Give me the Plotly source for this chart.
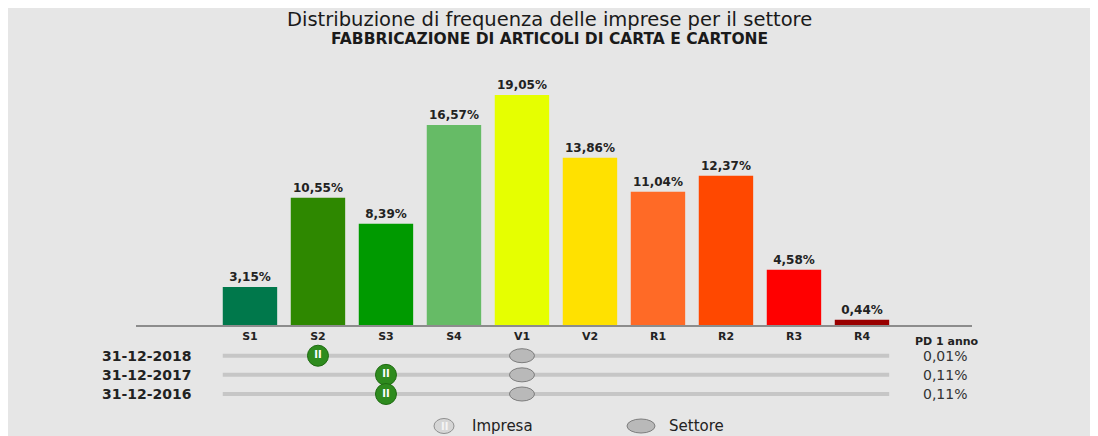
import plotly.graph_objects as go

# ---------------- data ----------------
classes = ["S1", "S2", "S3", "S4", "V1", "V2", "R1", "R2", "R3", "R4"]
freq_pct = [3.15, 10.55, 8.39, 16.57, 19.05, 13.86, 11.04, 12.37, 4.58, 0.44]
bar_colors = ["#00784b", "#2e8800", "#009a00", "#66bb66", "#e6ff00",
              "#ffe100", "#ff6a26", "#ff4800", "#ff0000", "#990000"]
dates = ["31-12-2018", "31-12-2017", "31-12-2016"]
impresa_class = ["S2", "S3", "S3"]
settore_class = ["V1", "V1", "V1"]
pd_1_anno = ["0,01%", "0,11%", "0,11%"]
title_line1 = "Distribuzione di frequenza delle imprese per il settore"
title_line2 = "FABBRICAZIONE DI ARTICOLI DI CARTA E CARTONE"

FONT = "DejaVu Sans"
idx = list(range(len(classes)))
row_vals = [3, 2, 1]  # vertical position of the three slider rows

# page offset (browser body margin) and plot-area geometry in px
OFF = 8
W, H = 1098, 428
L, T = 128.0, 37.0
PW, PH = 836.0, 391.0


def px_x(p):
    """reference-picture x pixel -> paper coordinate"""
    return (p - OFF - L) / PW


def px_y(p):
    """reference-picture y pixel -> paper coordinate"""
    return (T + PH - (p - OFF)) / PH


fig = go.Figure()

# bars
fig.add_trace(go.Bar(
    x=idx, y=freq_pct, width=0.8,
    marker=dict(color=bar_colors, line=dict(width=0)),
    texttemplate="%{y:.2f}%", textposition="outside",
    textfont=dict(family=FONT, size=12, color="#222222", weight="bold"),
    cliponaxis=False, hoverinfo="skip", showlegend=False,
))

shapes = []
# slider tracks
for r in row_vals:
    shapes.append(dict(type="line", xref="x", yref="y2",
                       x0=-0.4, x1=len(classes) - 0.6, y0=r, y1=r,
                       line=dict(color="#c6c6c6", width=4), layer="below"))

# Settore ellipses
for r, c in zip(row_vals, settore_class):
    xi = classes.index(c)
    shapes.append(dict(type="circle", xref="x", yref="y2",
                       xsizemode="pixel", ysizemode="pixel",
                       xanchor=xi, yanchor=r, x0=-12.5, x1=12.5, y0=-7, y1=7,
                       fillcolor="#b9b9b9", line=dict(color="#7d7d7d", width=1)))

# Impresa knobs
imp_x = [classes.index(c) for c in impresa_class]
fig.add_trace(go.Scatter(
    x=imp_x, y=row_vals, yaxis="y2", mode="markers+text",
    marker=dict(size=21, color="#2e8b1e", line=dict(color="#1f6b12", width=1)),
    text=["II"] * len(imp_x), textposition="middle center",
    textfont=dict(family=FONT, size=10, color="white", weight="bold"),
    hoverinfo="skip", showlegend=False, cliponaxis=False,
))

annotations = []
annotations.append(dict(
    text=("<span style='font-size:19.5px'>" + title_line1 + "</span><br>"
          "<span style='font-size:15.5px'><b>" + title_line2 + "</b></span>"),
    xref="paper", yref="paper", x=px_x(549), y=px_y(6), showarrow=False,
    xanchor="center", yanchor="top", align="center",
    font=dict(family=FONT, size=13.5, color="#1a1a1a")))

for r, d, v in zip(row_vals, dates, pd_1_anno):
    annotations.append(dict(text="<b>" + d + "</b>", xref="paper", yref="y2",
                            x=px_x(194), y=r, showarrow=False,
                            xanchor="right", yanchor="middle",
                            font=dict(family=FONT, size=14, color="#222222")))
    annotations.append(dict(text=v, xref="paper", yref="y2",
                            x=px_x(969), y=r, showarrow=False,
                            xanchor="right", yanchor="middle",
                            font=dict(family=FONT, size=14, color="#333333")))

annotations.append(dict(text="<b>PD 1 anno</b>", xref="paper", yref="paper",
                        x=px_x(947), y=px_y(341.5), showarrow=False,
                        xanchor="center", yanchor="middle",
                        font=dict(family=FONT, size=11, color="#222222")))

# custom legend
shapes.append(dict(type="circle", xref="paper", yref="paper",
                   xsizemode="pixel", ysizemode="pixel",
                   xanchor=px_x(444), yanchor=px_y(426),
                   x0=-10, x1=10, y0=-7.5, y1=7.5,
                   fillcolor="#d6d6d6", line=dict(color="#8f8f8f", width=1)))
annotations.append(dict(text="<b>II</b>", xref="paper", yref="paper",
                        x=px_x(444), y=px_y(426), showarrow=False,
                        xanchor="center", yanchor="middle",
                        font=dict(family=FONT, size=10, color="#f4f4f4")))
annotations.append(dict(text="Impresa", xref="paper", yref="paper",
                        x=px_x(470), y=px_y(426), showarrow=False,
                        xanchor="left", yanchor="middle",
                        font=dict(family=FONT, size=15, color="#222222")))
shapes.append(dict(type="circle", xref="paper", yref="paper",
                   xsizemode="pixel", ysizemode="pixel",
                   xanchor=px_x(641), yanchor=px_y(426),
                   x0=-14, x1=14, y0=-7, y1=7,
                   fillcolor="#b9b9b9", line=dict(color="#7d7d7d", width=1)))
annotations.append(dict(text="Settore", xref="paper", yref="paper",
                        x=px_x(667), y=px_y(426), showarrow=False,
                        xanchor="left", yanchor="middle",
                        font=dict(family=FONT, size=15, color="#222222")))

fig.update_layout(
    width=W, height=H, autosize=False,
    margin=dict(l=L, r=W - L - PW, t=T, b=H - T - PH, pad=0),
    paper_bgcolor="#e6e6e6", plot_bgcolor="rgba(0,0,0,0)",
    separators=",.",
    bargap=0.2,
    xaxis=dict(range=[-1.676, 10.618], tickvals=idx, ticktext=classes,
               showgrid=False, zeroline=False, showline=True,
               linecolor="#8c8c8c", linewidth=1.5, ticks="",
               tickfont=dict(family=FONT, size=11, color="#222222", weight="bold"),
               anchor="y", fixedrange=True),
    yaxis=dict(domain=[0.2839, 1.0], range=[0, 23.2], visible=False,
               fixedrange=True),
    yaxis2=dict(domain=[0.0, 0.27], range=[-1.193, 4.32], visible=False,
                fixedrange=True),
    shapes=shapes, annotations=annotations,
    showlegend=False,
)

fig.write_html("out.html", config={"displayModeBar": False})
